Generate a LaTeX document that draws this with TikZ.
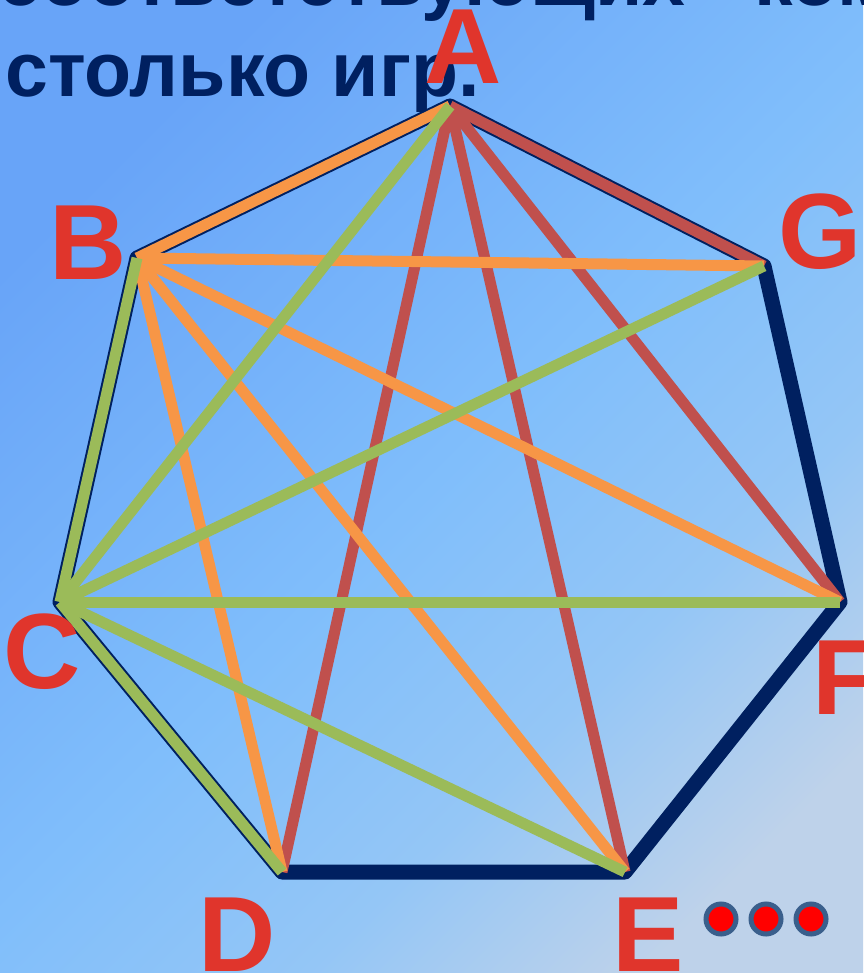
\documentclass[tikz,border=0pt]{standalone}
\usepackage{fontspec}
\setmainfont{Liberation Sans}
\usepackage{xcolor}
\usetikzlibrary{positioning,shadings}

\definecolor{navy}{HTML}{002060}
\definecolor{lineRed}{HTML}{C0504D}
\definecolor{lineOrange}{HTML}{F79646}
\definecolor{lineGreen}{HTML}{9BBB59}
\definecolor{labelRed}{HTML}{E0352C}
\definecolor{dotRing}{HTML}{3A5F8C}
\definecolor{bgA}{HTML}{68A4F8}
\definecolor{bgB}{HTML}{80BEFB}
\definecolor{bgC}{HTML}{94C6F6}
\definecolor{bgD}{HTML}{BED2EA}
\pgfdeclarehorizontalshading{slidebg}{100bp}{color(0bp)=(bgA); color(25bp)=(bgA);
  color(50bp)=(bgB); color(64bp)=(bgC); color(77bp)=(bgD); color(100bp)=(bgD)}

\begin{document}
\begin{tikzpicture}[
    x=1pt, y=-1pt,
    side/.style={draw=navy, line width=15pt, line join=round},
    redline/.style={draw=lineRed, line width=11pt},
    orangeline/.style={draw=lineOrange, line width=11pt},
    greenline/.style={draw=lineGreen, line width=11pt},
    vlabel/.style={
      text=labelRed,
      font=\fontsize{107}{107}\selectfont\bfseries,
      inner sep=0pt
    },
    headline/.style={
      text=navy,
      font=\fontsize{77}{77}\selectfont\bfseries,
      inner sep=0pt,
      anchor=base west
    },
    dot/.style={
      circle,
      draw=dotRing,
      fill=red,
      line width=5pt,
      minimum size=30pt,
      inner sep=0pt
    }
  ]
    \useasboundingbox (0,0) rectangle (863,973);
    \clip (0,0) rectangle (863,973);
    \shade[shading=slidebg, shading angle=-45] (0,0) rectangle (863,973);

    % text of the slide, cut off at the top
    \node[headline] (line1) at (-2,6) {соответствующих};
    \node[headline] (line1b) at (754,6) {ком};
    \node[headline] (line2) at (5,97) {столько игр.};

    % vertices of the heptagon
    \coordinate (A) at (450,106);
    \coordinate (B) at (137,258);
    \coordinate (C) at (60,602);
    \coordinate (D) at (282,872);
    \coordinate (E) at (625,872);
    \coordinate (F) at (840,602);
    \coordinate (G) at (764,266);

    \draw[side] (A) -- (B) -- (C) -- (D) -- (E) -- (F) -- (G) -- cycle;

    % games of team A
    \foreach \v in {G,D,E,F}
      \draw[redline] (A) -- (\v);
    % games of team B
    \foreach \v in {A,G,F,E,D}
      \draw[orangeline] (B) -- (\v);
    % games of team C
    \foreach \v in {B,A,G,F,E,D}
      \draw[greenline] (C) -- (\v);

    \node[vlabel] (labelA) at (463,47) {A};
    \node[vlabel] (labelB) at (88,243) {B};
    \node[vlabel] (labelC) at (42,652) {C};
    \node[vlabel] (labelD) at (237,935) {D};
    \node[vlabel] (labelE) at (648,935) {E};
    \node[vlabel] (labelF) at (845,678) {F};
    \node[vlabel] (labelG) at (820,232) {G};

    \foreach \x [count=\i] in {721,766,811}
      \node[dot] (dot\i) at (\x,919) {};
  \end{tikzpicture}
\end{document}
